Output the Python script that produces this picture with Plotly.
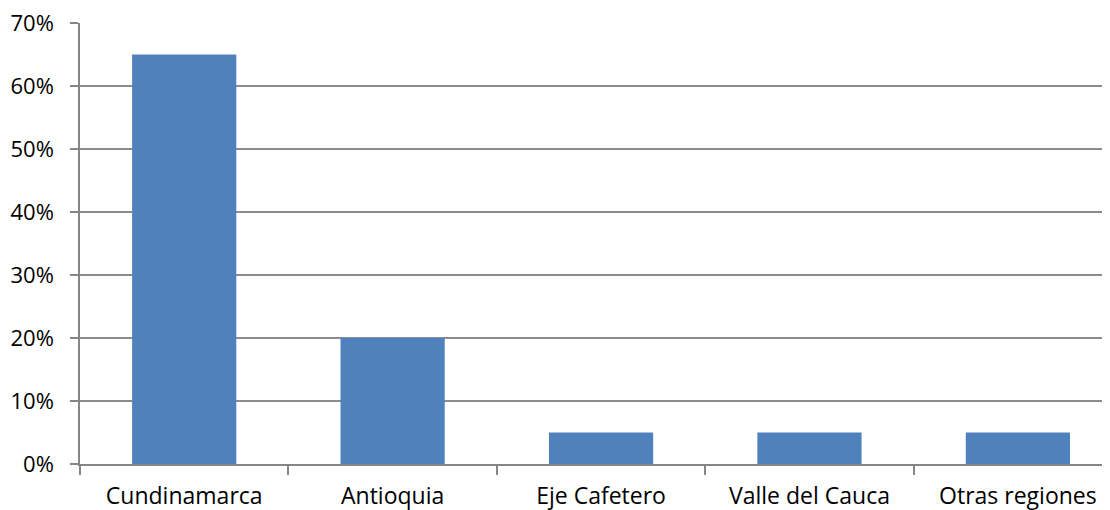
import plotly.graph_objects as go

categories = ["Cundinamarca", "Antioquia", "Eje Cafetero", "Valle del Cauca", "Otras regiones"]
values = [0.65, 0.20, 0.05, 0.05, 0.05]
y_ticks = [0, 0.1, 0.2, 0.3, 0.4, 0.5, 0.6, 0.7]

fig = go.Figure(go.Bar(x=categories, y=values, marker=dict(color="#4F81BD", line=dict(width=0))))

font = dict(family="Open Sans, sans-serif", size=23, color="#000000")
yfont = dict(family="Open Sans, sans-serif", size=22, color="#000000")
fig.update_layout(
    width=1102, height=502,
    margin=dict(l=72, r=0, t=15, b=46, autoexpand=False),
    paper_bgcolor="white", plot_bgcolor="white",
    bargap=0.5, showlegend=False, font=font,
)
fig.update_xaxes(
    range=[-0.5, 4.442], tickson="boundaries", ticks="outside", ticklen=9,
    tickcolor="#868686", tickwidth=1.5, showline=True, linecolor="#868686", linewidth=1.5,
    showgrid=False, tickfont=font, automargin=False, ticklabelstandoff=11,
    ticklabeloverflow="allow",
)
fig.update_yaxes(
    range=[0, 0.7], tickvals=y_ticks, tickformat=".0%", ticks="outside", ticklen=8,
    tickcolor="#868686", tickwidth=1.5, showline=True, linecolor="#868686", linewidth=1.5,
    showgrid=True, gridcolor="#8C8C8C", gridwidth=1.5, zeroline=False, tickfont=yfont,
    ticklabelstandoff=12, automargin=False, ticklabeloverflow="allow",
)
fig.write_html("out.html")
